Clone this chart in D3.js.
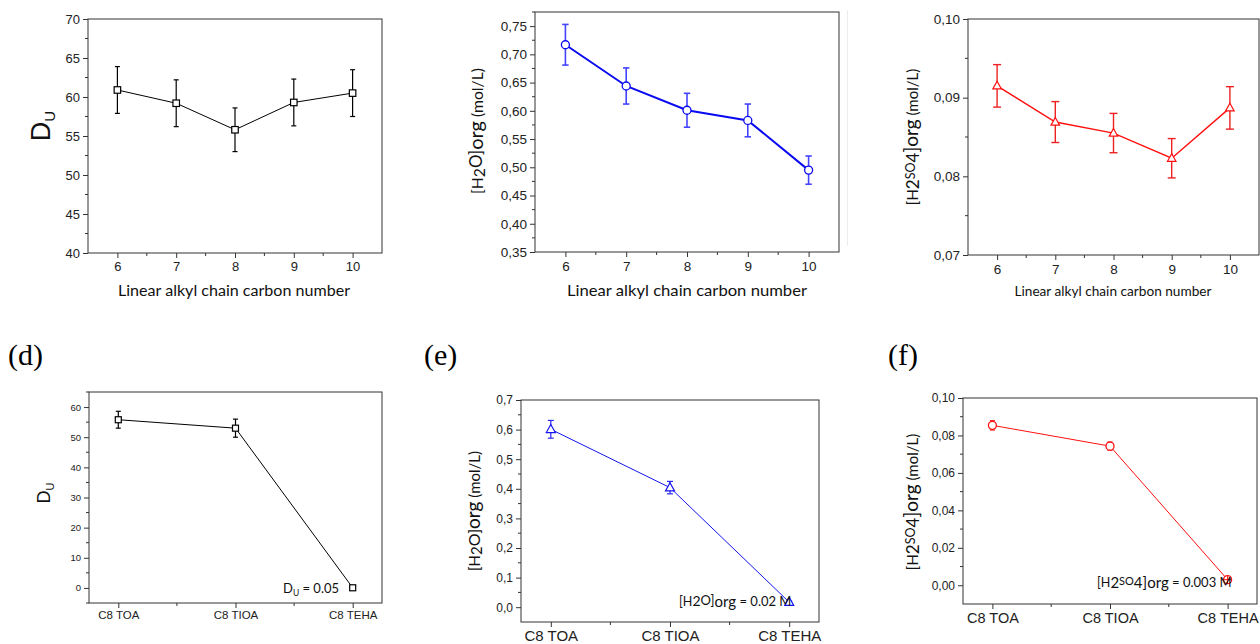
<!DOCTYPE html>
<html><head><meta charset="utf-8">
<script src="https://cdn.jsdelivr.net/npm/d3@7"></script>
<style>body{margin:0;background:#fff}svg{display:block}</style>
</head><body>
<svg id="chart" width="1260" height="644"></svg>
<script>
// ---------- data ----------
const carbonNumbers = [6, 7, 8, 9, 10];
const duValues      = [60.9, 59.2, 55.8, 59.3, 60.5];
const duErrors      = [3.0, 3.0, 2.8, 3.0, 3.0];
const h2oValues     = [0.717, 0.644, 0.601, 0.583, 0.495];
const h2oErrors     = [0.036, 0.032, 0.030, 0.029, 0.025];
const h2so4Values   = [0.0915, 0.0869, 0.0855, 0.0823, 0.0887];
const h2so4Errors   = [0.0027, 0.0026, 0.0025, 0.0025, 0.0027];

const amineCategories = ["C8 TOA", "C8 TIOA", "C8 TEHA"];
const duAmine       = [55.8, 53.0, 0.05];
const duAmineErr    = [2.8, 3.0, 0.3];
const h2oAmine      = [0.601, 0.404, 0.017];
const h2oAmineErr   = [0.030, 0.021, 0.004];
const h2so4Amine    = [0.0854, 0.0743, 0.003];
const h2so4AmineErr = [0.0025, 0.0022, 0.0004];

// tick values
const ticksA = [40, 45, 50, 55, 60, 65, 70];
const ticksB = [0.35, 0.40, 0.45, 0.50, 0.55, 0.60, 0.65, 0.70, 0.75];
const ticksC = [0.07, 0.08, 0.09, 0.10];
const ticksD = [0, 10, 20, 30, 40, 50, 60];
const ticksE = [0.0, 0.1, 0.2, 0.3, 0.4, 0.5, 0.6, 0.7];
const ticksF = [0.00, 0.02, 0.04, 0.06, 0.08, 0.10];

const svg = d3.select("#chart");
const TICKFONT = "'Liberation Sans', Arial, sans-serif";
const LABFONT = "Lato, 'Open Sans', sans-serif";

function comma(dec) { const f = d3.format("." + dec + "f"); return v => f(v).replace(".", ","); }
function midpoints(arr) { const m = []; for (let i = 0; i < arr.length - 1; i++) m.push((arr[i] + arr[i + 1]) / 2); return m; }

function richText(g, x, y, parts, rotate, anchor, family) {
  const t = g.append("text")
    .attr("transform", `translate(${x},${y})` + (rotate ? " rotate(-90)" : ""))
    .attr("text-anchor", anchor || "middle")
    .attr("font-family", family || LABFONT)
    .attr("fill", "#111");
  let prev = 0;
  parts.forEach(p => {
    const s = p.shift || 0;
    t.append("tspan").attr("font-size", p.size).attr("dy", s - prev).text(p.t);
    prev = s;
  });
  return t;
}

function drawPanel(o) {
  const g = svg.append("g");
  let x, xTicks, xMinor;
  if (o.categorical) {
    x = d3.scalePoint().domain(o.xs).range([o.x0, o.x1]).padding(0.25);
    xTicks = o.xs.map(c => x(c));
    xMinor = midpoints(xTicks);
  } else {
    x = d3.scaleLinear().domain([5.5, 10.5]).range([o.x0, o.x1]);
    xTicks = o.xs.map(c => x(c));
    xMinor = midpoints(o.xs).map(c => x(c));
  }
  const y = d3.scaleLinear().domain(o.ydomain).range([o.y1, o.y0]);
  const yMinorVals = o.yMinor;

  g.append("g").selectAll("line").data(yMinorVals).join("line")
    .attr("x1", o.x0 - 3).attr("x2", o.x0).attr("y1", d => y(d)).attr("y2", d => y(d))
    .attr("stroke", "#333").attr("stroke-width", 1);
  g.append("g").selectAll("line").data(xMinor).join("line")
    .attr("x1", d => d).attr("x2", d => d).attr("y1", o.y1).attr("y2", o.y1 + 3)
    .attr("stroke", "#333").attr("stroke-width", 1);

  const ya = g.append("g").attr("transform", `translate(${o.x0},0)`)
    .call(d3.axisLeft(y).tickValues(o.yticks).tickFormat(o.fmt).tickSize(5).tickPadding(3));
  ya.select(".domain").remove();
  ya.selectAll("line").attr("stroke", "#333");
  ya.selectAll("text").attr("font-family", TICKFONT).style("font-size", o.tickFont + "px").attr("fill", "#222");

  const xa = g.append("g").attr("transform", `translate(0,${o.y1})`);
  if (o.categorical) {
    xa.call(d3.axisBottom(x).tickSize(5).tickPadding(o.xPad || 3));
  } else {
    xa.call(d3.axisBottom(x).tickValues(o.xs).tickFormat(d3.format("d")).tickSize(5).tickPadding(o.xPad || 3));
  }
  xa.select(".domain").remove();
  xa.selectAll("line").attr("stroke", "#333");
  xa.selectAll("text").attr("font-family", TICKFONT).style("font-size", (o.xTickFont || o.tickFont) + "px").attr("fill", "#222");

  g.append("rect").attr("x", o.x0).attr("y", o.y0).attr("width", o.x1 - o.x0).attr("height", o.y1 - o.y0)
    .attr("fill", "none").attr("stroke", "#333").attr("stroke-width", 1);

  const pts = o.xs.map((c, i) => ({ x: x(c), v: o.values[i], e: o.errors[i] }));

  g.append("path").datum(pts)
    .attr("d", d3.line().x(d => d.x).y(d => y(d.v)))
    .attr("fill", "none").attr("stroke", o.color).attr("stroke-width", o.lineW);

  const eb = g.append("g").attr("stroke", o.errColor || o.color).attr("stroke-width", o.errW || 1.2);
  pts.forEach(p => {
    const t = y(p.v + p.e), b = y(p.v - p.e);
    eb.append("line").attr("x1", p.x).attr("x2", p.x).attr("y1", t).attr("y2", b);
    eb.append("line").attr("x1", p.x - o.cap).attr("x2", p.x + o.cap).attr("y1", t).attr("y2", t);
    eb.append("line").attr("x1", p.x - o.cap).attr("x2", p.x + o.cap).attr("y1", b).attr("y2", b);
  });

  const mk = g.append("g");
  pts.forEach(p => {
    const cx = p.x, cy = y(p.v), s = o.msize;
    if (o.marker === "square") {
      mk.append("rect").attr("x", cx - s / 2).attr("y", cy - s / 2).attr("width", s).attr("height", s)
        .attr("fill", "#fff").attr("stroke", o.color).attr("stroke-width", 1.2);
    } else if (o.marker === "circle") {
      mk.append("circle").attr("cx", cx).attr("cy", cy).attr("r", s / 2)
        .attr("fill", "#fff").attr("stroke", o.color).attr("stroke-width", 1.3);
    } else {
      const h = s * 0.9;
      mk.append("path").attr("d", `M${cx},${cy - h * 0.6}L${cx + s / 2},${cy + h * 0.4}L${cx - s / 2},${cy + h * 0.4}Z`)
        .attr("fill", "#fff").attr("stroke", o.color).attr("stroke-width", 1.2);
    }
  });
  return { g, x, y };
}

// ---------- top row ----------
const pa = drawPanel({ x0: 88, x1: 382, y0: 19, y1: 253, xs: carbonNumbers, values: duValues, errors: duErrors,
  ydomain: [40, 70], yticks: ticksA, yMinor: midpoints(ticksA), fmt: d3.format("d"), tickFont: 13,
  color: "#000", lineW: 1, marker: "square", msize: 6.5, cap: 2.5, xPad: 4 });
const pb = drawPanel({ x0: 535, x1: 839, y0: 12, y1: 252, xs: carbonNumbers, values: h2oValues, errors: h2oErrors,
  ydomain: [0.35, 0.775], yticks: ticksB, yMinor: midpoints(ticksB).concat([0.775]), fmt: comma(2), tickFont: 13.5,
  color: "#0a0af0", errColor: "#4444ff", errW: 1.6, lineW: 2, marker: "circle", msize: 8, cap: 3.2, xPad: 4 });
const pc = drawPanel({ x0: 968, x1: 1259, y0: 19, y1: 255, xs: carbonNumbers, values: h2so4Values, errors: h2so4Errors,
  ydomain: [0.07, 0.10], yticks: ticksC, yMinor: midpoints(ticksC), fmt: comma(2), tickFont: 13.5,
  color: "#ff1010", errColor: "#ee2222", errW: 1.4, lineW: 1.4, marker: "triangle", msize: 8.5, cap: 4, xPad: 4 });

// ---------- bottom row ----------
const pd = drawPanel({ x0: 89, x1: 382, y0: 392, y1: 603, categorical: true, xs: amineCategories, values: duAmine, errors: duAmineErr,
  ydomain: [-5, 65], yticks: ticksD, yMinor: [-5, 5, 15, 25, 35, 45, 55, 65], fmt: d3.format("d"), tickFont: 9.5, xTickFont: 11.5,
  color: "#000", lineW: 1, marker: "square", msize: 6, cap: 2.5, xPad: 3 });
const pe = drawPanel({ x0: 521, x1: 819, y0: 400, y1: 622, categorical: true, xs: amineCategories, values: h2oAmine, errors: h2oAmineErr,
  ydomain: [-0.05, 0.7], yticks: ticksE, yMinor: [0.05, 0.15, 0.25, 0.35, 0.45, 0.55, 0.65], fmt: comma(1), tickFont: 12, xTickFont: 15,
  color: "#1414ee", errColor: "#2a2aee", errW: 1.2, lineW: 1, marker: "triangle", msize: 9, cap: 3, xPad: 3 });
const pf = drawPanel({ x0: 963, x1: 1257, y0: 398, y1: 604, categorical: true, xs: amineCategories, values: h2so4Amine, errors: h2so4AmineErr,
  ydomain: [-0.01, 0.10], yticks: ticksF, yMinor: [0.01, 0.03, 0.05, 0.07, 0.09], fmt: comma(2), tickFont: 12, xTickFont: 14.5,
  color: "#ff1010", errColor: "#ee2222", errW: 1.2, lineW: 1, marker: "circle", msize: 8, cap: 2.5, xPad: 4 });

{
  const cx = pf.x(amineCategories[2]), cy = pf.y(h2so4Amine[2]);
  pf.g.append("path").attr("d", `M${cx - 3.5},${cy}H${cx + 3.5}M${cx},${cy - 3.5}V${cy + 3.5}`).attr("stroke", "#ff1010").attr("stroke-width", 1);
}

// ---------- axis titles ----------
function xTitle(cx, y, size, len) {
  svg.append("text").attr("x", cx).attr("y", y).attr("text-anchor", "middle")
    .attr("font-family", LABFONT).attr("font-size", size).attr("fill", "#111")
    .attr("textLength", len).attr("lengthAdjust", "spacingAndGlyphs")
    .text("Linear alkyl chain carbon number");
}
xTitle(234, 296, 15.5, 232);
xTitle(687, 296, 16, 240);
xTitle(1113, 296, 13, 197);

richText(svg, 50, 126, [{ t: "D", size: 27 }, { t: "U", size: 15, shift: 5 }], true, "middle", "'Liberation Sans', Arial, sans-serif");
richText(svg, 50, 493, [{ t: "D", size: 18 }, { t: "U", size: 11, shift: 4 }], true, "middle", "'Liberation Sans', Arial, sans-serif");

const h2oParts = s => [
  { t: "[H", size: 15 * s }, { t: "2", size: 15 * s, shift: 1.5 * s }, { t: "O]", size: 16 * s, shift: -0.5 * s },
  { t: "org", size: 19 * s, shift: 0 }, { t: " (mol/L)", size: 15 * s, shift: 0 }];
richText(svg, 483, 131, h2oParts(1.05), true);
richText(svg, 480, 511, h2oParts(1.0), true);

const h2so4Parts = s => [
  { t: "[H", size: 15 * s }, { t: "2", size: 17 * s, shift: 1 * s }, { t: "SO", size: 12.5 * s, shift: -3 * s },
  { t: "4", size: 17 * s, shift: 1 * s }, { t: "]org", size: 19 * s, shift: 0 }, { t: " (mol/L)", size: 15 * s, shift: 0 }];
richText(svg, 918, 137, h2so4Parts(1), true);
richText(svg, 918, 502, h2so4Parts(1), true);

// ---------- annotations ----------
richText(svg, 283, 593, [{ t: "D", size: 13 }, { t: "U", size: 8.5, shift: 3 }, { t: " = 0.05", size: 13, shift: 0 }], false, "start");
richText(svg, 679, 606, [{ t: "[H", size: 12.5 }, { t: "2", size: 14, shift: 0 }, { t: "O]", size: 13, shift: -1 },
  { t: "org", size: 15, shift: 1 }, { t: " = 0.02 M", size: 13, shift: 0 }], false, "start");
richText(svg, 1097, 587, [{ t: "[H", size: 12.5 }, { t: "2", size: 15, shift: 1 }, { t: "SO", size: 11, shift: -2.5 },
  { t: "4", size: 15, shift: 1 }, { t: "]org", size: 15, shift: 0.5 }, { t: " = 0.003 M", size: 13, shift: 0 }], false, "start");

// ---------- panel letters ----------
[["(d)", 8], ["(e)", 424], ["(f)", 888]].forEach(([t, x]) => {
  svg.append("text").attr("x", x).attr("y", 365).attr("font-family", "'Liberation Serif', 'Times New Roman', serif")
    .attr("font-size", 30).attr("fill", "#000").text(t);
});

svg.append("line").attr("x1", 847.5).attr("x2", 847.5).attr("y1", 10).attr("y2", 246).attr("stroke", "#ececec").attr("stroke-width", 1);
</script>
</body></html>
